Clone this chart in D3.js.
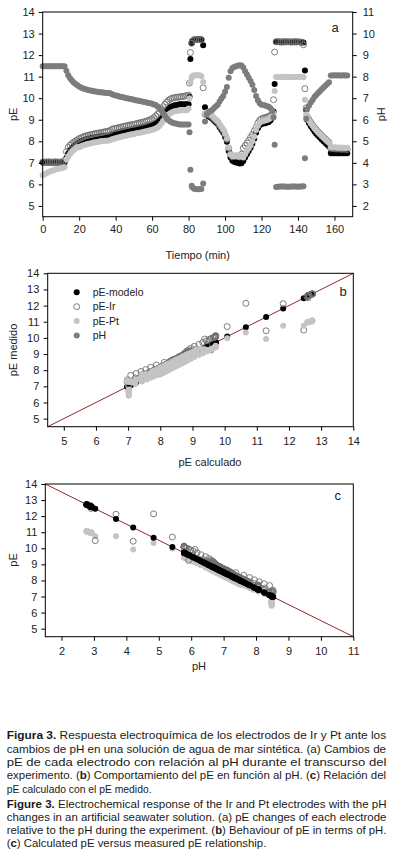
<!DOCTYPE html>
<html>
<head>
<meta charset="utf-8">
<script src="https://cdn.jsdelivr.net/npm/d3@7"></script>
<style>
  body { margin: 0; background: #fff; }
</style>
</head>
<body>
<div id="fig"></div>
<script>
// time (min) and the four measured/calculated series
const time = [
  0,1,2,3,4,5,6,7,8,9,10,11,12,13,14,15,16,17,18,19,
  20,21,22,23,24,25,26,27,28,29,30,31,32,33,34,35,36,37,38,39,
  40,41,42,43,44,45,46,47,48,49,50,51,52,53,54,55,56,57,58,59,
  60,61,62,63,64,65,66,67,68,69,70,71,72,73,74,75,76,77,78,79,
  80,80.5,81,81.7,82,83,84,85,86,87,88,
  89,90,91,92,93,94,95,96,97,98,99,
  100,101,102,103,104,105,106,107,108,109,110,111,112,113,114,115,116,117,118,119,
  120,121,122,123,124,125,126,126.6,127.2,
  128,129,130,131,132,133,134,135,136,137,138,139,140,141,142,143,143.8,144.5,
  145,146,147,148,149,150,151,152,153,154,155,156,157,
  158,159,160,161,162,163,164,165,166,167
];

const pH = [
  8.48,8.48,8.48,8.48,8.48,8.48,8.48,8.48,8.48,8.48,8.48,8.48,8.48,8.27,8.07,7.92,7.82,7.73,7.66,7.60,
  7.54,7.50,7.46,7.43,7.40,7.38,7.36,7.34,7.32,7.31,7.30,7.28,7.27,7.26,7.25,7.24,7.24,7.23,7.18,7.15,
  7.13,7.11,7.08,7.06,7.04,7.02,7.00,6.98,6.96,6.95,6.93,6.91,6.89,6.87,6.86,6.84,6.82,6.80,6.78,6.76,
  6.74,6.71,6.68,6.62,6.55,6.44,6.30,6.18,6.06,5.98,5.92,5.87,5.84,5.82,5.80,5.78,5.78,5.78,5.78,5.78,
  5.78,5.42,3.68,2.94,2.87,2.80,2.78,2.77,2.77,2.78,3.04,
  5.92,6.25,6.35,6.40,6.45,6.55,6.63,6.70,6.85,6.98,7.10,
  7.30,7.52,7.95,8.25,8.40,8.45,8.48,8.50,8.53,8.52,8.42,8.25,8.10,7.95,7.80,7.62,7.38,7.10,6.90,6.76,
  6.70,6.68,6.66,6.63,6.60,6.52,6.40,6.12,4.84,
  2.88,2.89,2.90,2.90,2.90,2.90,2.89,2.89,2.90,2.90,2.90,2.90,2.89,2.90,2.90,2.91,4.21,6.05,
  6.50,6.65,6.80,6.92,7.05,7.15,7.24,7.32,7.42,7.50,7.58,7.66,7.74,
  8.05,8.05,8.06,8.05,8.06,8.05,8.05,8.06,8.05,8.05
];

const pEmodelo = [
  7.02,7.02,7.02,7.02,7.02,7.02,7.02,7.02,7.02,7.02,7.02,7.02,7.02,7.23,7.43,7.58,7.68,7.77,7.84,7.90,
  7.96,8.00,8.04,8.07,8.10,8.12,8.14,8.16,8.18,8.19,8.20,8.22,8.23,8.24,8.25,8.26,8.26,8.27,8.32,8.35,
  8.37,8.39,8.42,8.44,8.46,8.48,8.50,8.52,8.54,8.55,8.57,8.59,8.61,8.63,8.64,8.66,8.68,8.70,8.72,8.74,
  8.76,8.79,8.82,8.88,8.95,9.06,9.20,9.32,9.44,9.52,9.58,9.63,9.66,9.68,9.70,9.72,9.72,9.72,9.72,9.72,
  9.72,10.08,11.82,12.56,12.63,12.70,12.72,12.73,12.73,12.72,12.46,
  9.58,9.25,9.15,9.10,9.05,8.95,8.87,8.80,8.65,8.52,8.40,
  8.20,7.98,7.55,7.25,7.10,7.05,7.02,7.00,6.97,6.98,7.08,7.25,7.40,7.55,7.70,7.88,8.12,8.40,8.60,8.74,
  8.80,8.82,8.84,8.87,8.90,8.98,9.10,9.38,10.66,
  12.62,12.61,12.60,12.60,12.60,12.60,12.61,12.61,12.60,12.60,12.60,12.60,12.61,12.60,12.60,12.59,11.29,9.45,
  9.00,8.85,8.70,8.58,8.45,8.35,8.26,8.18,8.08,8.00,7.92,7.84,7.76,
  7.45,7.45,7.44,7.45,7.44,7.45,7.45,7.44,7.45,7.45
];

const pEIr = [
  7.03,7.04,7.03,7.05,7.04,7.03,7.04,7.05,7.04,7.03,7.04,7.05,7.10,7.52,7.72,7.82,7.90,7.96,8.02,8.07,
  8.12,8.16,8.20,8.23,8.26,8.28,8.30,8.32,8.34,8.36,8.37,8.39,8.40,8.42,8.44,8.46,8.47,8.50,8.56,8.58,
  8.60,8.62,8.64,8.66,8.68,8.70,8.72,8.74,8.76,8.77,8.79,8.81,8.83,8.85,8.87,8.89,8.91,8.94,8.97,9.00,
  9.04,9.10,9.18,9.26,9.36,9.48,9.60,9.72,9.82,9.90,9.96,10.00,10.02,10.04,10.05,10.06,10.07,10.08,10.10,10.12,
  10.14,10.70,12.12,12.55,12.65,12.72,12.72,12.72,12.72,12.70,10.48,
  9.25,9.30,9.22,9.17,9.12,9.03,8.95,8.88,8.74,8.62,8.50,
  8.30,8.08,7.68,7.40,7.28,7.30,7.32,7.30,7.28,7.40,7.68,7.80,7.92,8.04,8.18,8.32,8.48,8.65,8.85,8.98,
  9.05,9.08,9.10,9.13,9.16,9.20,9.28,9.93,12.14,
  12.62,12.63,12.62,12.61,12.62,12.63,12.62,12.62,12.61,12.62,12.63,12.62,12.62,12.61,12.60,12.48,10.44,9.55,
  9.15,9.02,8.88,8.76,8.64,8.54,8.44,8.36,8.27,8.19,8.11,8.03,7.95,
  7.68,7.66,7.65,7.64,7.65,7.64,7.63,7.64,7.63,7.62
];

const pEPt = [
  6.42,6.47,6.52,6.56,6.60,6.63,6.66,6.69,6.71,6.73,6.75,6.77,6.80,7.15,7.30,7.42,7.52,7.60,7.67,7.73,
  7.72,7.77,7.80,7.83,7.86,7.88,7.90,7.92,7.94,7.96,7.97,7.99,8.00,8.01,8.02,8.03,8.04,8.05,8.09,8.12,
  8.14,8.16,8.19,8.21,8.23,8.25,8.27,8.29,8.31,8.32,8.34,8.36,8.38,8.40,8.41,8.43,8.45,8.47,8.49,8.51,
  8.53,8.56,8.59,8.64,8.71,8.81,8.94,9.05,9.16,9.24,9.30,9.35,9.38,9.40,9.42,9.43,9.44,9.44,9.44,9.44,
  9.52,9.98,10.75,10.95,11.02,11.06,11.07,11.07,11.06,11.02,10.75,
  9.30,9.35,9.28,9.23,9.18,9.08,9.00,8.93,8.79,8.67,8.55,
  8.35,8.12,7.70,7.40,7.30,7.30,7.32,7.30,7.30,7.35,7.25,7.40,7.55,7.68,7.82,8.00,8.22,8.52,8.72,8.86,
  8.92,8.94,8.96,8.99,9.02,9.08,9.18,9.30,10.33,
  10.98,10.97,10.98,10.98,10.99,10.98,10.97,10.98,10.98,10.98,10.97,10.98,10.98,10.99,10.98,10.97,9.93,9.25,
  9.10,8.97,8.84,8.72,8.60,8.50,8.41,8.33,8.24,8.16,8.08,8.00,7.93,
  7.72,7.71,7.72,7.71,7.70,7.71,7.70,7.70,7.69,7.70
];

const legendLabels = ["pE-modelo", "pE-Ir", "pE-Pt", "pH"];
const timeTicks = [0, 20, 40, 60, 80, 100, 120, 140, 160];
const pETicks = [5, 6, 7, 8, 9, 10, 11, 12, 13, 14];
const pHTicksA = [2, 3, 4, 5, 6, 7, 8, 9, 10, 11];
const pHTicksC = [2, 3, 4, 5, 6, 7, 8, 9, 10, 11];
const lineB = [[4.5, 4.5], [14, 14]];   // 1:1 line
const lineC = [[1.5, 14], [11, 4.5]];   // pE = 15.5 - pH

const captionLines = [
  [["Figura 3.", 1], [" Respuesta electroquímica de los electrodos de Ir y Pt ante los", 0]],
  [["cambios de pH en una solución de agua de mar sintética. (a) Cambios de", 0]],
  [["pE de cada electrodo con relación al pH durante el transcurso del", 0]],
  [["experimento. (", 0], ["b", 1], [") Comportamiento del pE en función al pH. (", 0], ["c", 1], [") Relación del", 0]],
  [["pE calculado con el pE medido.", 0]],
  [["Figure 3.", 1], [" Electrochemical response of the Ir and Pt electrodes with the pH", 0]],
  [["changes in an artificial seawater solution. (a) pE changes of each electrode", 0]],
  [["relative to the pH during the experiment. (", 0], ["b", 1], [") Behaviour of pE in terms of pH.", 0]],
  [["(", 0], ["c", 1], [") Calculated pE versus measured pE relationship.", 0]]
];
const captionWidths = [380, 380, 380, 380, 145, 380, 380, 380, 260];

const width = 396;
const height = 867;
const font = "'Liberation Sans', Arial, sans-serif";
const colModelo = "#000";
const colIr = "#6f6f6f";
const colPt = "#c4c4c4";
const colPH = "#7c7c7c";

const rows = time.map((t, i) => ({t: t, ph: pH[i], mod: pEmodelo[i], ir: pEIr[i], pt: pEPt[i]}));

const svg = d3.select("#fig").append("svg")
    .attr("width", width)
    .attr("height", height)
    .style("display", "block");

function styleAxis(g) {
    g.select(".domain").remove();
    g.attr("font-family", font).attr("font-size", 11);
    g.selectAll(".tick line").attr("stroke", "#000");
    g.selectAll(".tick text").attr("fill", "#222");
}

function frame(x0, x1, y0, y1) {
    svg.append("rect")
        .attr("x", x0).attr("y", y0)
        .attr("width", x1 - x0).attr("height", y1 - y0)
        .attr("fill", "none").attr("stroke", "#000").attr("stroke-width", 1);
}

function dots(cls, xf, yf, fill, stroke) {
    svg.append("g").attr("class", cls)
        .selectAll("circle")
        .data(rows)
        .join("circle")
        .attr("cx", xf)
        .attr("cy", yf)
        .attr("r", 3)
        .attr("fill", fill)
        .attr("stroke", stroke || "none")
        .attr("stroke-width", 0.9);
}

function label(txt, x, y, rot, size) {
    svg.append("text")
        .attr("transform", `translate(${x},${y})` + (rot ? " rotate(-90)" : ""))
        .attr("text-anchor", "middle")
        .attr("dy", "0.35em")
        .attr("font-family", font)
        .attr("font-size", size || 11)
        .attr("fill", "#222")
        .text(txt);
}

// ---------- panel a ----------
const ax = d3.scaleLinear().domain([0, 170]).range([42.7, 352.7]);
const ayL = d3.scaleLinear().domain([4.5, 14]).range([216.7, 12]);
const ayR = d3.scaleLinear().domain([1.5, 11]).range([216.7, 12]);

dots("a-mod", d => ax(d.t), d => ayL(d.mod), colModelo);
dots("a-ir", d => ax(d.t), d => ayL(d.ir), "none", colIr);
dots("a-pt", d => ax(d.t), d => ayL(d.pt), colPt);
dots("a-ph", d => ax(d.t), d => ayR(d.ph), colPH);

frame(42.7, 352.7, 12, 216.7);

svg.append("g").attr("transform", "translate(0,216.7)")
    .call(d3.axisBottom(ax).tickValues(timeTicks).tickSize(4).tickPadding(4.5))
    .call(styleAxis);
svg.append("g").attr("transform", "translate(42.7,0)")
    .call(d3.axisLeft(ayL).tickValues(pETicks).tickSize(4).tickPadding(4))
    .call(styleAxis);
svg.append("g").attr("transform", "translate(352.7,0)")
    .call(d3.axisRight(ayR).tickValues(pHTicksA).tickSize(4).tickPadding(6))
    .call(styleAxis);

label("pE", 13, 114.3, true);
label("pH", 381, 114.3, true);
label("Tiempo (min)", 197.7, 255);
label("a", 335, 27, false, 13);

// ---------- panel b ----------
const bx = d3.scaleLinear().domain([4.5, 14]).range([47.7, 353.3]);
const by = d3.scaleLinear().domain([4.5, 14]).range([426.7, 273.3]);

svg.append("path")
    .datum(lineB)
    .attr("d", d3.line().x(d => bx(d[0])).y(d => by(d[1])))
    .attr("stroke", "#8b2a2a").attr("stroke-width", 1).attr("fill", "none");

dots("b-mod", d => bx(d.mod), d => by(d.mod), colModelo);
dots("b-ir", d => bx(d.mod), d => by(d.ir), "none", colIr);
dots("b-pt", d => bx(d.mod), d => by(d.pt), colPt);

frame(47.7, 353.3, 273.3, 426.7);

svg.append("g").attr("transform", "translate(0,426.7)")
    .call(d3.axisBottom(bx).tickValues(pETicks).tickSize(4).tickPadding(7))
    .call(styleAxis);
svg.append("g").attr("transform", "translate(47.7,0)")
    .call(d3.axisLeft(by).tickValues(pETicks).tickSize(4).tickPadding(4.4))
    .call(styleAxis);

const legend = svg.append("g").attr("class", "legend");
const legendStyle = [
    {fill: colModelo, stroke: "none"},
    {fill: "none", stroke: colIr},
    {fill: colPt, stroke: "none"},
    {fill: colPH, stroke: "none"}
];
legendLabels.forEach((name, i) => {
    const yy = 292.3 + i * 14.4;
    legend.append("circle")
        .attr("cx", 76.7).attr("cy", yy).attr("r", 3)
        .attr("fill", legendStyle[i].fill)
        .attr("stroke", legendStyle[i].stroke)
        .attr("stroke-width", 0.9);
    legend.append("text")
        .attr("x", 92.7).attr("y", yy).attr("dy", "0.35em")
        .attr("font-family", font).attr("font-size", 10.5).attr("fill", "#222")
        .text(name);
});

label("pE medido", 13, 350, true);
label("pE calculado", 210, 462);
label("b", 343, 291, false, 13);

// ---------- panel c ----------
const cx = d3.scaleLinear().domain([1.5, 11]).range([45.3, 353.3]);
const cy = d3.scaleLinear().domain([4.5, 14]).range([636.7, 484]);

svg.append("path")
    .datum(lineC)
    .attr("d", d3.line().x(d => cx(d[0])).y(d => cy(d[1])))
    .attr("stroke", "#8b2a2a").attr("stroke-width", 1).attr("fill", "none");

dots("c-pt", d => cx(d.ph), d => cy(d.pt), colPt);
dots("c-ir", d => cx(d.ph), d => cy(d.ir), "none", colIr);
dots("c-mod", d => cx(d.ph), d => cy(d.mod), colModelo);

frame(45.3, 353.3, 484, 636.7);

svg.append("g").attr("transform", "translate(0,636.7)")
    .call(d3.axisBottom(cx).tickValues(pHTicksC).tickSize(4).tickPadding(6.5))
    .call(styleAxis);
svg.append("g").attr("transform", "translate(45.3,0)")
    .call(d3.axisLeft(cy).tickValues(pETicks).tickSize(4).tickPadding(4))
    .call(styleAxis);

label("pE", 13, 560, true);
label("pH", 199, 665.7);
label("c", 337.7, 495, false, 13);

// ---------- caption ----------
// each line is set at its natural width, then squeezed horizontally to the column width
const baselines = [739.3, 752.6, 765.9, 779.2, 792.5, 807.5, 820.8, 834.1, 847.4];
captionLines.forEach((parts, i) => {
    const t = svg.append("text")
        .attr("x", 0)
        .attr("y", 0)
        .attr("font-family", font)
        .attr("font-size", 12)
        .attr("fill", "#1a1a1a")
        .style("white-space", "pre");
    parts.forEach(p => {
        t.append("tspan")
            .attr("font-weight", p[1] ? "bold" : "normal")
            .text(p[0]);
    });
    const natural = t.node().getComputedTextLength();
    const k = captionWidths[i] / natural;
    t.attr("transform", `translate(6.7,${baselines[i]}) scale(${k.toFixed(4)},0.95)`);
});
</script>
</body>
</html>
